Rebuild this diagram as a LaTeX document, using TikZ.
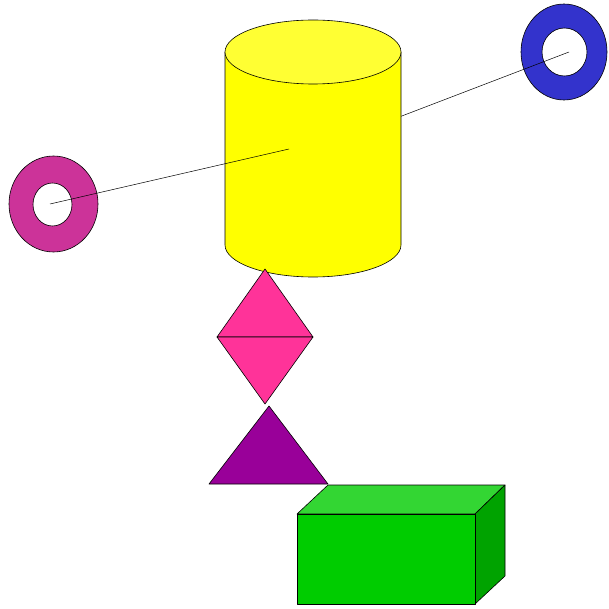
\documentclass[tikz,border=0pt]{standalone}
\usepackage{xcolor}
\usepackage{tikz}
\usetikzlibrary{calc}

\definecolor{ringmag}{HTML}{CC3399}
\definecolor{ringblue}{HTML}{3333CC}
\definecolor{cylbody}{HTML}{FFFF00}
\definecolor{cyltop}{HTML}{FFFF33}
\definecolor{kitepink}{HTML}{FF3399}
\definecolor{tripurple}{HTML}{990099}
\definecolor{boxfront}{HTML}{00CC00}
\definecolor{boxtop}{HTML}{33D633}
\definecolor{boxside}{HTML}{00A300}

\begin{document}
\begin{tikzpicture}[
  x=1pt, y=-1pt,
  solid/.style={draw=black, line width=0.6pt, line join=round},
  ring/.style={solid, even odd rule},
  link/.style={draw=black, line width=0.5pt}
]
  \useasboundingbox (0,0) rectangle (608,609);

  % anchor points
  \coordinate (magc) at (50,204);
  \coordinate (bluec) at (569,52);
  \coordinate (cylin) at (289,149);
  \coordinate (cylc) at (313,150);

  % rings
  \path[ring, fill=ringmag] (53.5,204) ellipse [x radius=44.5, y radius=48]
                            (52.5,204.5) ellipse [x radius=19.5, y radius=21.5];
  \path[ring, fill=ringblue] (564,52) ellipse [x radius=43, y radius=48]
                             (564.5,52) ellipse [x radius=22.5, y radius=24];

  % blue ring link runs behind the drum
  \draw[link] (bluec) -- (cylc);

  % drum (y axis points down, so the lower rim runs 180 -> 0)
  \path[solid, fill=cylbody] (225,52) -- (225,245)
    arc[start angle=180, end angle=0, x radius=88, y radius=32]
    -- (401,52) -- cycle;
  \path[solid, fill=cyltop] (313,52) ellipse [x radius=88, y radius=32];

  \draw[link] (magc) -- (cylin);

  % kite made of two triangles
  \path[solid, fill=kitepink] (265,269) -- (313,337) -- (217,337) -- cycle;
  \path[solid, fill=kitepink] (217,337) -- (313,337) -- (265,404) -- cycle;

  % triangle
  \path[solid, fill=tripurple] (269,406) -- (328,484) -- (209,484) -- cycle;

  % box
  \path[solid, fill=boxtop] (297,514) -- (328,485) -- (505,485) -- (475,514) -- cycle;
  \path[solid, fill=boxside] (475,514) -- (505,485) -- (505,576) -- (475,604) -- cycle;
  \path[solid, fill=boxfront] (297,514) rectangle (475,604);
\end{tikzpicture}
\end{document}
